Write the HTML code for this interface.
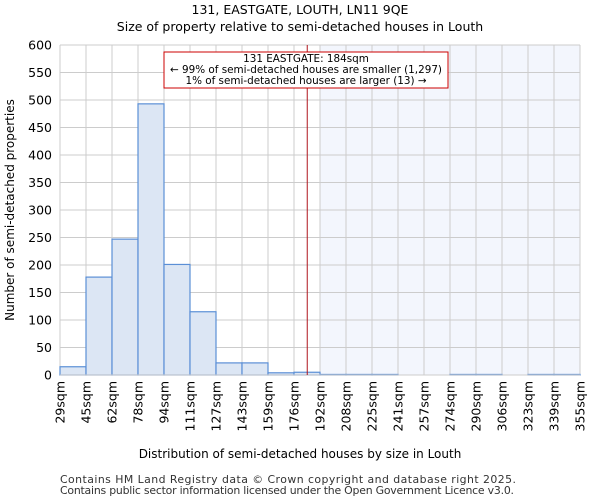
<!DOCTYPE html>
<html><head><meta charset="utf-8"><style>
body{margin:0;background:#fff;font-family:"DejaVu Sans","Liberation Sans",sans-serif}
</style></head><body>
<svg id="c" width="600" height="500" xmlns="http://www.w3.org/2000/svg" font-family="DejaVu Sans, Liberation Sans, sans-serif">
<text x="300" y="14" text-anchor="middle" font-size="12.5">131, EASTGATE, LOUTH, LN11 9QE</text>
<text x="300" y="31" text-anchor="middle" font-size="12.5">Size of property relative to semi-detached houses in Louth</text>
<g id="plot"></g>
<text x="300" y="458" text-anchor="middle" font-size="12">Distribution of semi-detached houses by size in Louth</text>
<text transform="translate(14,210) rotate(-90)" text-anchor="middle" font-size="12">Number of semi-detached properties</text>
<text x="60" y="483" font-size="10.9" fill="#333" textLength="456">Contains HM Land Registry data © Crown copyright and database right 2025.</text>
<text x="60" y="494" font-size="10.9" fill="#333" textLength="454">Contains public sector information licensed under the Open Government Licence v3.0.</text>
</svg>
<script>
const categories=["29sqm","45sqm","62sqm","78sqm","94sqm","111sqm","127sqm","143sqm","159sqm","176sqm","192sqm","208sqm","225sqm","241sqm","257sqm","274sqm","290sqm","306sqm","323sqm","339sqm","355sqm"];
const counts=[15,178,247,493,201,115,22,22,4,5,1,1,1,0,0,1,1,0,1,1];
const yTicks=[0,50,100,150,200,250,300,350,400,450,500,550,600];
const propertySize=[184];
const edgeSizes=[29,45.3,61.6,77.9,94.2,110.5,126.8,143.1,159.4,175.7,192,208.3,224.6,240.9,257.2,273.5,289.8,306.1,322.4,338.7,355];
const NS="http://www.w3.org/2000/svg";
const L=60,R=580,T=45,B=375,n=counts.length,bw=(R-L)/n;
const y=v=>B-v/600*(B-T);
const xi=i=>L+i*bw;
const xs=s=>{for(let i=0;i<edgeSizes.length-1;i++){if(s<=edgeSizes[i+1])return xi(i)+(s-edgeSizes[i])/(edgeSizes[i+1]-edgeSizes[i])*bw;}return R;};
const g=document.getElementById('plot');
function mk(t,a){const e=document.createElementNS(NS,t);for(const k in a)e.setAttribute(k,a[k]);g.appendChild(e);return e;}
const px=xs(propertySize[0]);
const shadeStart=xi(Math.ceil((px-L)/bw));
let e=mk('rect',{x:shadeStart,y:T,width:R-shadeStart,height:B-T,fill:'#f3f6fd'});


for(const t of yTicks){
 e=mk('line',{x1:L,x2:R,y1:y(t),y2:y(t),stroke:'#cccccc'});
 
 
 e=mk('text',{x:L-8,y:y(t)+4.5,'text-anchor':'end','font-size':'12.5'});e.textContent=t;
 
 
}
for(let i=0;i<=n;i++){
 e=mk('line',{x1:xi(i),x2:xi(i),y1:T,y2:B,stroke:'#cccccc'});
 
 
 e=mk('text',{transform:`translate(${xi(i)+4.5},${B+6}) rotate(-90)`,'text-anchor':'end','font-size':'12.5'});e.textContent=categories[i];
 
 
}
for(let i=0;i<n;i++){
 if(counts[i]<=0)continue;
 e=mk('rect',{x:xi(i),y:y(counts[i]),width:bw,height:B-y(counts[i]),fill:'#dce6f4',stroke:'#5b8fd6','stroke-width':1.2});
 
 
}
e=mk('line',{x1:L,x2:R,y1:B,y2:B,stroke:'#cccccc'});


e=mk('line',{x1:px,x2:px,y1:T,y2:B,stroke:'#b0141c','stroke-width':1});


e=mk('rect',{x:164,y:52,width:284,height:36,fill:'#fff',stroke:'#cc0000','stroke-width':1});


const lines=["131 EASTGATE: 184sqm","← 99% of semi-detached houses are smaller (1,297)","1% of semi-detached houses are larger (13) →"];
lines.forEach((s,k)=>{e=mk('text',{x:306,y:62+k*11,'text-anchor':'middle','font-size':'10.4'});e.textContent=s;
 
 });
</script>
</body></html>
